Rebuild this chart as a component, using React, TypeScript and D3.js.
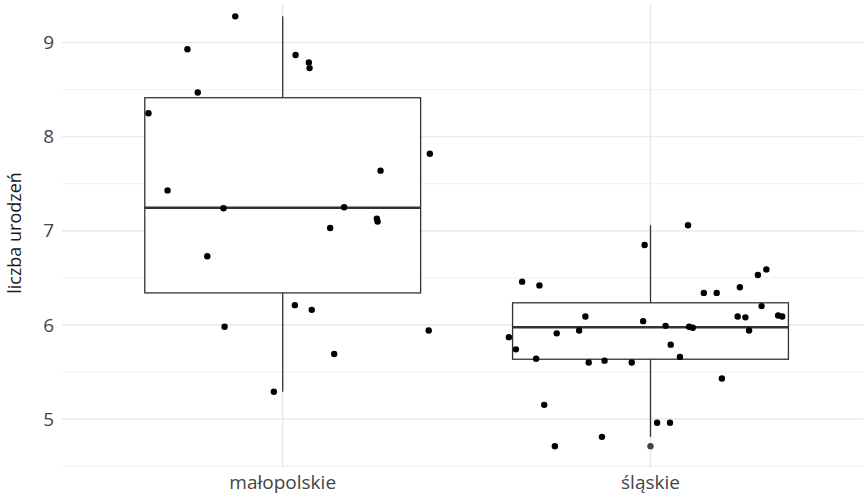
import React, { useEffect, useRef } from "react";
import * as d3 from "d3";

const categories = ["małopolskie", "śląskie"];

const malopolskieValues = [
  9.28, 8.93, 8.87, 8.79, 8.73, 8.47, 8.25, 7.82, 7.64, 7.43, 7.24,
  7.25, 7.13, 7.1, 7.03, 6.73, 6.21, 6.16, 5.98, 5.94, 5.69, 5.29,
];
const malopolskieJitter = [
  -0.129, -0.259, 0.035, 0.071, 0.073, -0.231, -0.365, 0.4, 0.266, -0.313,
  -0.161, 0.167, 0.256, 0.258, 0.129, -0.205, 0.033, 0.079, -0.158, 0.397,
  0.14, -0.024,
];

const slaskieValues = [
  7.06, 6.85, 6.59, 6.53, 6.46, 6.42, 6.4, 6.34, 6.34, 6.2, 6.09, 6.09,
  6.08, 6.1, 6.09, 6.04, 5.99, 5.98, 5.97, 5.94, 5.94, 5.87, 5.91, 5.74,
  5.79, 5.64, 5.66, 5.6, 5.62, 5.6, 5.43, 5.15, 4.96, 4.96, 4.81, 4.71,
];
const slaskieJitter = [
  0.102, -0.016, 0.315, 0.292, -0.349, -0.302, 0.243, 0.145, 0.18, 0.302,
  -0.177, 0.237, 0.258, 0.347, 0.358, -0.02, 0.041, 0.105, 0.115, -0.194,
  0.268, -0.385, -0.255, -0.366, 0.055, -0.311, 0.08, -0.168, -0.125,
  -0.051, 0.194, -0.289, 0.018, 0.053, -0.132, -0.26,
];

const yTicks = [5, 6, 7, 8, 9];
const yMinor = [4.5, 5.5, 6.5, 7.5, 8.5];
const yTitle = "liczba urodzeń";

const groups = [
  { name: categories[0], values: malopolskieValues, jitter: malopolskieJitter },
  { name: categories[1], values: slaskieValues, jitter: slaskieJitter },
];

const App = () => {
  const ref = useRef<HTMLDivElement>(null);

  useEffect(() => {
    d3.select(ref.current).select("svg").remove();
    const width = 863,
      height = 494;
    const panel = { left: 62, right: 863, top: 4, bottom: 467 };
    const font = "'Open Sans', sans-serif";

    const svg = d3
      .select(ref.current)
      .append("svg")
      .attr("width", width)
      .attr("height", height)
      .style("display", "block")
      .style("background", "#fff");

    const x = d3.scaleLinear().domain([1, 2]).range([282.7, 650.5]);
    const step = x(2) - x(1);
    const y = d3.scaleLinear().domain([4.5, 9]).range([466, 42.7]);

    // grid
    svg
      .selectAll(".minor")
      .data(yMinor)
      .enter()
      .append("line")
      .attr("x1", panel.left)
      .attr("x2", panel.right)
      .attr("y1", (d) => y(d))
      .attr("y2", (d) => y(d))
      .attr("stroke", "#f0f0f0")
      .attr("stroke-width", 1);
    svg
      .selectAll(".major")
      .data(yTicks)
      .enter()
      .append("line")
      .attr("x1", panel.left)
      .attr("x2", panel.right)
      .attr("y1", (d) => y(d))
      .attr("y2", (d) => y(d))
      .attr("stroke", "#e6e6e6")
      .attr("stroke-width", 1.2);
    svg
      .selectAll(".vmajor")
      .data(categories)
      .enter()
      .append("line")
      .attr("x1", (d, i) => x(i + 1))
      .attr("x2", (d, i) => x(i + 1))
      .attr("y1", panel.top)
      .attr("y2", panel.bottom)
      .attr("stroke", "#e6e6e6")
      .attr("stroke-width", 1.2);

    // boxplots
    const boxW = step * 0.75;
    groups.forEach((g, i) => {
      const cx = x(i + 1);
      const sorted = g.values.slice().sort(d3.ascending);
      const q1 = d3.quantile(sorted, 0.25) as number;
      const med = d3.quantile(sorted, 0.5) as number;
      const q3 = d3.quantile(sorted, 0.75) as number;
      const iqr = q3 - q1;
      const inside = sorted.filter((v) => v >= q1 - 1.5 * iqr && v <= q3 + 1.5 * iqr);
      const lo = d3.min(inside) as number;
      const hi = d3.max(inside) as number;
      const outliers = sorted.filter((v) => v < lo || v > hi);
      const gb = svg.append("g");
      gb.append("line")
        .attr("x1", cx).attr("x2", cx)
        .attr("y1", y(hi)).attr("y2", y(q3))
        .attr("stroke", "#333").attr("stroke-width", 1.3);
      gb.append("line")
        .attr("x1", cx).attr("x2", cx)
        .attr("y1", y(q1)).attr("y2", y(lo))
        .attr("stroke", "#333").attr("stroke-width", 1.3);
      gb.append("rect")
        .attr("x", cx - boxW / 2)
        .attr("y", y(q3))
        .attr("width", boxW)
        .attr("height", y(q1) - y(q3))
        .attr("fill", "#fff")
        .attr("stroke", "#333")
        .attr("stroke-width", 1.3);
      gb.append("line")
        .attr("x1", cx - boxW / 2).attr("x2", cx + boxW / 2)
        .attr("y1", y(med)).attr("y2", y(med))
        .attr("stroke", "#333").attr("stroke-width", 2.6);
      gb.selectAll("circle")
        .data(outliers)
        .enter()
        .append("circle")
        .attr("cx", cx)
        .attr("cy", (d) => y(d))
        .attr("r", 3.2)
        .attr("fill", "#444");
    });

    // jittered points
    groups.forEach((g, i) => {
      svg
        .append("g")
        .selectAll("circle")
        .data(g.values)
        .enter()
        .append("circle")
        .attr("cx", (d, j) => x(i + 1 + g.jitter[j]))
        .attr("cy", (d) => y(d))
        .attr("r", 3.2)
        .attr("fill", "#000");
    });

    // axes text
    svg
      .selectAll(".ytick")
      .data(yTicks)
      .enter()
      .append("text")
      .attr("x", 54)
      .attr("y", (d) => y(d))
      .attr("dy", "0.35em")
      .attr("text-anchor", "end")
      .style("font-family", font)
      .style("font-size", "19px")
      .attr("fill", "#444")
      .text((d) => d);

    svg
      .selectAll(".xtick")
      .data(categories)
      .enter()
      .append("text")
      .attr("x", (d, i) => x(i + 1))
      .attr("y", 488.5)
      .attr("text-anchor", "middle")
      .style("font-family", font)
      .style("font-size", "19px")
      .attr("fill", "#444")
      .text((d) => d);

    svg
      .append("text")
      .attr("transform", "translate(15," + 233 + ") rotate(-90)")
      .attr("dy", "0.35em")
      .attr("text-anchor", "middle")
      .style("font-family", font)
      .style("font-size", "18px")
      .attr("fill", "#1a1a1a")
      .text(yTitle);
  }, []);

  return (
    <div
      ref={ref}
      style={{ position: "fixed", left: 0, top: 0, width: 863, height: 494, overflow: "hidden" }}
    />
  );
};

export default App;
